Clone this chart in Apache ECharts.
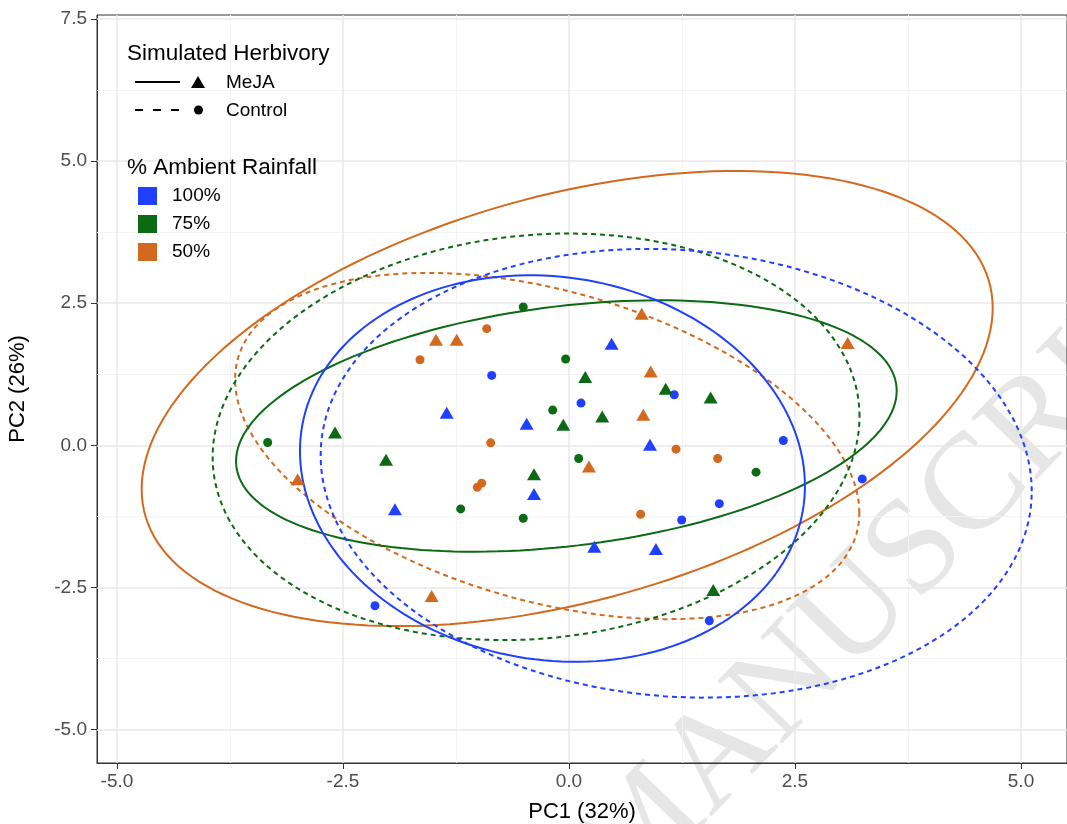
<!DOCTYPE html>
<html>
<head>
<meta charset="utf-8">
<title>PCA herbivory x rainfall</title>
<script src="https://cdn.jsdelivr.net/npm/echarts@6/dist/echarts.min.js"></script>
<style>
  html, body { margin: 0; padding: 0; background: #fff; }
  #chart { width: 1067px; height: 824px; }
</style>
</head>
<body>
<div id="chart"></div>
<script>
// [PC1, PC2] scores
const meja100 = [[0.472, 1.787], [-1.353, 0.572], [-0.468, 0.378], [0.896, 0.009], [-0.387, -0.854], [-1.925, -1.124], [0.280, -1.782], [0.962, -1.822]]
const ctrl100 = [[-0.855, 1.229], [0.133, 0.743], [1.165, 0.889], [2.371, 0.085], [3.244, -0.590], [1.663, -1.025], [1.247, -1.312], [-2.146, -2.820], [1.552, -3.085]]
const meja75 = [[-2.588, 0.225], [-2.024, -0.255], [0.180, 1.201], [0.368, 0.507], [-0.063, 0.361], [1.070, 0.995], [1.567, 0.842], [-0.387, -0.507], [1.596, -2.544]]
const ctrl75 = [[-0.506, 2.433], [-0.037, 1.518], [-0.180, 0.620], [-3.333, 0.049], [0.107, -0.232], [2.069, -0.472], [-1.198, -1.118], [-0.506, -1.282]]
const meja50 = [[-1.471, 1.857], [-1.242, 1.857], [0.804, 2.315], [3.083, 1.799], [0.904, 1.299], [0.822, 0.537], [0.221, -0.373], [-3.001, -0.595], [-1.519, -2.650]]
const ctrl50 = [[-0.910, 2.051], [-1.648, 1.505], [-0.866, 0.044], [-1.014, -0.736], [-0.966, -0.665], [1.184, -0.067], [1.645, -0.232], [0.793, -1.211]]

// ellipses: [centre x, centre y, half width, half height, correlation]
const ellMeja100 = [-0.183, -0.408, 2.793, 3.398, -0.09]
const ellCtrl100 = [1.186, -0.491, 3.933, 3.945, -0.08]
const ellMeja75 = [-0.029, 0.340, 3.654, 2.210, 0.28]
const ellCtrl75 = [-0.364, 0.150, 3.578, 3.574, 0.10]
const ellMeja50 = [-0.020, 0.823, 4.707, 4.001, 0.398]
const ellCtrl50 = [-0.241, -0.012, 3.453, 3.044, -0.385]

const xTicks = [-5, -2.5, 0, 2.5, 5]
const yTicks = [-5, -2.5, 0, 2.5, 5, 7.5]
const xMinor = [-3.75, -1.25, 1.25, 3.75]
const yMinor = [-3.75, -1.25, 1.25, 3.75, 6.25]

const BLUE = '#1f40ff'
const GREEN = '#0b6a13'
const ORANGE = '#d2691e'
const FONT = 'Liberation Sans, Arial, sans-serif'

function ellipse(p) {
  const [cx, cy, w, h, r] = p
  const phi = Math.acos(r)
  const pts = []
  for (let i = 0; i <= 180; i++) {
    const t = i / 180 * 2 * Math.PI
    pts.push([cx + w * Math.cos(t), cy + h * Math.cos(t - phi)])
  }
  return pts
}

function pointSeries(data, color, tri) {
  return {
    type: 'scatter',
    data: data,
    symbol: tri ? 'triangle' : 'circle',
    symbolSize: tri ? [14, 12] : 9,
    itemStyle: { color: color, opacity: 1 },
    z: 4
  }
}

function ellSeries(p, color, dashed) {
  return {
    type: 'line',
    data: ellipse(p),
    showSymbol: false,
    symbol: 'none',
    smooth: false,
    lineStyle: { color: color, width: 2, type: dashed ? [5, 4] : 'solid' },
    z: 3
  }
}

// panel grid drawn through the axes, kept under the marks
function gridLines(xs, ys, color, width) {
  return {
    type: 'line',
    data: [],
    silent: true,
    z: 1,
    markLine: {
      silent: true,
      z: 1,
      symbol: 'none',
      label: { show: false },
      animation: false,
      lineStyle: { color: color, width: width, type: 'solid' },
      data: xs.map(v => ({ xAxis: v })).concat(ys.map(v => ({ yAxis: v })))
    }
  }
}

const chart = echarts.init(document.getElementById('chart'))

const legendG = [
  { type: 'text', left: 127, top: 42, style: { text: 'Simulated Herbivory', font: '22.5px ' + FONT, fill: '#000' } },
  { type: 'line', shape: { x1: 135, y1: 82, x2: 180, y2: 82 }, style: { stroke: '#000', lineWidth: 2 } },
  { type: 'polygon', shape: { points: [[198, 76], [205, 88], [191, 88]] }, style: { fill: '#000' } },
  { type: 'text', left: 226, top: 73, style: { text: 'MeJA', font: '19px ' + FONT, fill: '#000' } },
  { type: 'line', shape: { x1: 135, y1: 110, x2: 180, y2: 110 }, style: { stroke: '#000', lineWidth: 2, lineDash: [8, 10] } },
  { type: 'circle', shape: { cx: 198.5, cy: 110, r: 4.5 }, style: { fill: '#000' } },
  { type: 'text', left: 226, top: 101, style: { text: 'Control', font: '19px ' + FONT, fill: '#000' } },
  { type: 'text', left: 127, top: 156, style: { text: '% Ambient Rainfall', font: '22.5px ' + FONT, fill: '#000' } },
  { type: 'rect', shape: { x: 138, y: 187, width: 19, height: 18 }, style: { fill: BLUE } },
  { type: 'text', left: 172, top: 186, style: { text: '100%', font: '19px ' + FONT, fill: '#000' } },
  { type: 'rect', shape: { x: 138, y: 215, width: 19, height: 18 }, style: { fill: GREEN } },
  { type: 'text', left: 172, top: 214, style: { text: '75%', font: '19px ' + FONT, fill: '#000' } },
  { type: 'rect', shape: { x: 138, y: 243, width: 19, height: 18 }, style: { fill: ORANGE } },
  { type: 'text', left: 172, top: 242, style: { text: '50%', font: '19px ' + FONT, fill: '#000' } }
].map(g => Object.assign(g, { z: 10 }))

chart.setOption({
  animation: false,
  backgroundColor: '#fff',
  textStyle: { fontFamily: FONT },
  grid: { left: 97, top: 15, right: 0, bottom: 61, outerBoundsMode: 'none', show: true, borderColor: '#333', borderWidth: 1 },
  xAxis: {
    type: 'value',
    min: -5.221,
    max: 5.509,
    name: 'PC1 (32%)',
    nameLocation: 'middle',
    nameGap: 38,
    nameTextStyle: { color: '#000', fontSize: 22, fontFamily: FONT },
    axisLine: { show: true, onZero: false, lineStyle: { color: '#333', width: 1 } },
    axisTick: { show: true, length: 6, customValues: xTicks, lineStyle: { color: '#333' } },
    axisLabel: { customValues: xTicks, color: '#4d4d4d', fontSize: 19, margin: 9, formatter: v => v.toFixed(1) },
    splitLine: { show: false }
  },
  yAxis: {
    type: 'value',
    min: -5.585,
    max: 7.566,
    name: 'PC2 (26%)',
    nameLocation: 'middle',
    nameGap: 68,
    nameRotate: 90,
    nameTextStyle: { color: '#000', fontSize: 22, fontFamily: FONT },
    axisLine: { show: true, onZero: false, lineStyle: { color: '#333', width: 1 } },
    axisTick: { show: true, length: 6, customValues: yTicks, lineStyle: { color: '#333' } },
    axisLabel: { customValues: yTicks, color: '#4d4d4d', fontSize: 19, margin: 10, formatter: v => v.toFixed(1) },
    splitLine: { show: false }
  },
  graphic: [
    {
      // faint diagonal watermark of the source manuscript
      type: 'text', x: 600, y: 880, rotation: 46 * Math.PI / 180, z: -1, silent: true,
      style: { text: 'MANUSCRIPT', font: '137px Liberation Serif, serif', fill: '#e6e6e6', textAlign: 'left', textVerticalAlign: 'middle' }
    }
  ].concat(legendG),
  series: [
    gridLines(xMinor, yMinor, '#f3f3f3', 1),
    gridLines(xTicks, yTicks, '#e9e9e9', 1.5),
    ellSeries(ellMeja50, ORANGE, false),
    ellSeries(ellCtrl50, ORANGE, true),
    ellSeries(ellMeja75, GREEN, false),
    ellSeries(ellCtrl75, GREEN, true),
    ellSeries(ellMeja100, BLUE, false),
    ellSeries(ellCtrl100, BLUE, true),
    pointSeries(meja100, BLUE, true),
    pointSeries(ctrl100, BLUE, false),
    pointSeries(meja75, GREEN, true),
    pointSeries(ctrl75, GREEN, false),
    pointSeries(meja50, ORANGE, true),
    pointSeries(ctrl50, ORANGE, false)
  ]
})
</script>
</body>
</html>
